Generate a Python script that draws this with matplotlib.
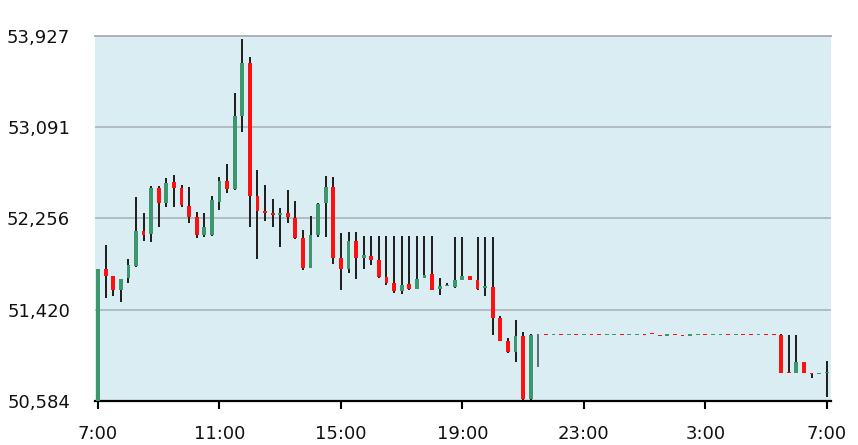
import numpy as np
import matplotlib.pyplot as plt
from matplotlib.ticker import FuncFormatter

# 15 minute candles, 7:00 -> 7:00 next day (hours counted from midnight of day 1)
start_hour = 7.0
step_hour = 0.25

opens = [50584, 51793, 51729, 51601, 51711, 51821, 52141, 52114, 52535, 52398,
	52590, 52535, 52370, 52269, 52104, 52104, 52407, 52599, 52526, 53194,
	53680, 52462, 52324, 52306, 52288, 52306, 52260, 52077, 51802, 52104,
	52398, 52544, 51894, 51793, 52050, 51894, 51912, 51876, 51720, 51665,
	51592, 51656, 51610, 51711, 51747, 51610, 51637, 51628, 51692, 51729,
	51692, 51620, 51628, 51344, 51134, 51033, 51179, 50602, 51198, 51198,
	51193, 51198, 51189, 51198, 51193, 51198, 51198, 51193, 51193, 51198,
	51193, 51193, 51198, 51207, 51189, 51184, 51198, 51189, 51184, 51193,
	51198, 51193, 51193, 51198, 51193, 51198, 51198, 51193, 51198, 51198,
	51189, 50849, 50840, 50941, 50840, 50831, 50840]
highs = [51793, 52013, 51729, 51701, 51885, 52452, 52306, 52553, 52553, 52627,
	52654, 52562, 52544, 52315, 52306, 52462, 52636, 52755, 53405, 53900,
	53735, 52700, 52562, 52434, 52352, 52517, 52416, 52150, 52278, 52398,
	52645, 52636, 52123, 52132, 52132, 52095, 52095, 52095, 52095, 52095,
	52095, 52095, 52095, 52095, 52095, 51711, 51665, 52086, 52086, 51729,
	52086, 52086, 52086, 51363, 51161, 51326, 51216, 51198, 51198, 51198,
	51198, 51198, 51193, 51198, 51198, 51198, 51198, 51198, 51198, 51198,
	51198, 51198, 51198, 51207, 51189, 51193, 51198, 51189, 51193, 51198,
	51198, 51198, 51198, 51198, 51198, 51198, 51198, 51198, 51198, 51198,
	51198, 51189, 51189, 50941, 50840, 50840, 50950]
lows = [50584, 51527, 51546, 51491, 51665, 51811, 52050, 52041, 52178, 52361,
	52361, 52361, 52214, 52077, 52086, 52095, 52333, 52489, 52517, 53048,
	52178, 51885, 52232, 52178, 51995, 52214, 52068, 51784, 51802, 52086,
	52086, 51839, 51601, 51756, 51701, 51793, 51830, 51711, 51647, 51573,
	51564, 51601, 51610, 51711, 51601, 51555, 51637, 51619, 51692, 51692,
	51601, 51546, 51189, 51134, 51024, 50941, 50593, 50593, 50895, 51193,
	51193, 51189, 51189, 51193, 51193, 51193, 51193, 51193, 51193, 51193,
	51193, 51193, 51193, 51198, 51175, 51184, 51189, 51175, 51184, 51193,
	51193, 51193, 51193, 51193, 51193, 51193, 51193, 51193, 51193, 51193,
	50840, 50840, 50840, 50840, 50795, 50831, 50621]
closes = [51793, 51729, 51601, 51701, 51830, 52141, 52104, 52535, 52398, 52581,
	52535, 52379, 52269, 52104, 52178, 52425, 52599, 52526, 53194, 53680,
	52462, 52324, 52306, 52288, 52306, 52269, 52077, 51802, 52104, 52388,
	52544, 51894, 51793, 52050, 51894, 51921, 51876, 51720, 51665, 51592,
	51647, 51610, 51701, 51738, 51601, 51637, 51647, 51692, 51729, 51692,
	51610, 51637, 51344, 51134, 51033, 51179, 50602, 51189, 51198, 51193,
	51198, 51189, 51193, 51193, 51198, 51193, 51193, 51198, 51198, 51193,
	51198, 51198, 51193, 51198, 51184, 51193, 51189, 51184, 51193, 51198,
	51193, 51198, 51198, 51193, 51198, 51193, 51193, 51198, 51193, 51193,
	50840, 50840, 50941, 50840, 50831, 50840, 50849]

y_ticks = [50584, 51420, 52256, 53091, 53927]
x_ticks = [7, 11, 15, 19, 23, 27, 31]
x_labels = ["7:00", "11:00", "15:00", "19:00", "23:00", "3:00", "7:00"]

UP = "#3c966e"
DOWN = "#ff1010"
FLAT = "#5f6b75"
GRID = "#abb3ba"

o = np.array(opens, dtype=float)
h = np.array(highs, dtype=float)
l = np.array(lows, dtype=float)
c = np.array(closes, dtype=float)
t = start_hour + step_hour * np.arange(len(o))

fig = plt.figure(figsize=(8.58, 4.45), dpi=100)
ax = fig.add_axes([95 / 858, 44 / 445, 736 / 858, 365 / 445])
ax.set_facecolor("#daedf2")

colors = np.where(c > o, UP, np.where(c < o, DOWN, FLAT))
ax.vlines(t, l, h, colors=[("#1c1c1c" if col != FLAT else FLAT) for col in colors],
	linewidth=1.4, zorder=2)
body_h = np.maximum(np.abs(c - o), 12)
body_bottom = np.minimum(o, c) - (body_h - np.abs(c - o)) / 2
mask = c != o
ax.bar(t[mask], body_h[mask], bottom=body_bottom[mask], width=0.125,
	color=colors[mask], linewidth=0, zorder=3)

ax.set_xlim(6.90, 31.14)
ax.set_ylim(y_ticks[0], y_ticks[-1])
ax.set_yticks(y_ticks)
ax.yaxis.set_major_formatter(FuncFormatter(lambda v, p: f"{v:,.0f}"))
ax.set_xticks(x_ticks)
ax.set_xticklabels(x_labels)
ax.yaxis.grid(True, color=GRID, linewidth=1.2)
ax.set_axisbelow(True)
ax.axhline(y_ticks[-1], color=GRID, linewidth=1.4, zorder=1, clip_on=False)

for s in ["top", "right", "left"]:
	ax.spines[s].set_visible(False)
ax.spines["bottom"].set_color("black")
ax.spines["bottom"].set_linewidth(1.6)

ax.tick_params(axis="y", length=0, pad=18, labelsize=13, labelcolor="#111111")
ax.tick_params(axis="x", length=6, width=1.5, pad=11, labelsize=13, labelcolor="#111111")

plt.savefig("out.png", dpi=100)
